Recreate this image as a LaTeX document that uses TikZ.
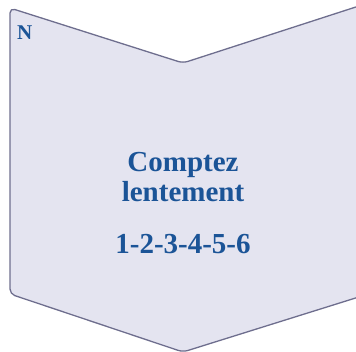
\documentclass[tikz,border=0pt]{standalone}
\usepackage{fontspec}
\setmainfont{Liberation Serif}
\definecolor{chevfill}{HTML}{E4E4F0}
\definecolor{chevline}{HTML}{6E6E8E}
\definecolor{txtblue}{HTML}{1B5497}
\begin{document}
\begin{tikzpicture}[x=1pt,y=-1pt,
  chev/.style={fill=chevfill,draw=chevline,line width=1.3pt,rounded corners=5pt},
  big/.style={text=txtblue,font=\bfseries\fontsize{29}{30}\selectfont,align=center,inner sep=0pt},
  small/.style={text=txtblue,font=\bfseries\fontsize{21}{22}\selectfont,inner sep=0pt}]
\useasboundingbox (0,0) rectangle (356,352);
\path[chev] (10,8) -- (183,63) -- (362,5) -- (362,296) -- (183,352) -- (10,294) -- cycle;
\node[big,anchor=base] (t1) at (183,172) {Comptez};
\node[big,anchor=base] (t2) at (183,201.5) {lentement};
\node[big,anchor=base] (t3) at (183,254) {1-2-3-4-5-6};
\node[small,anchor=base west] (n) at (17,40) {N};
\end{tikzpicture}
\end{document}
